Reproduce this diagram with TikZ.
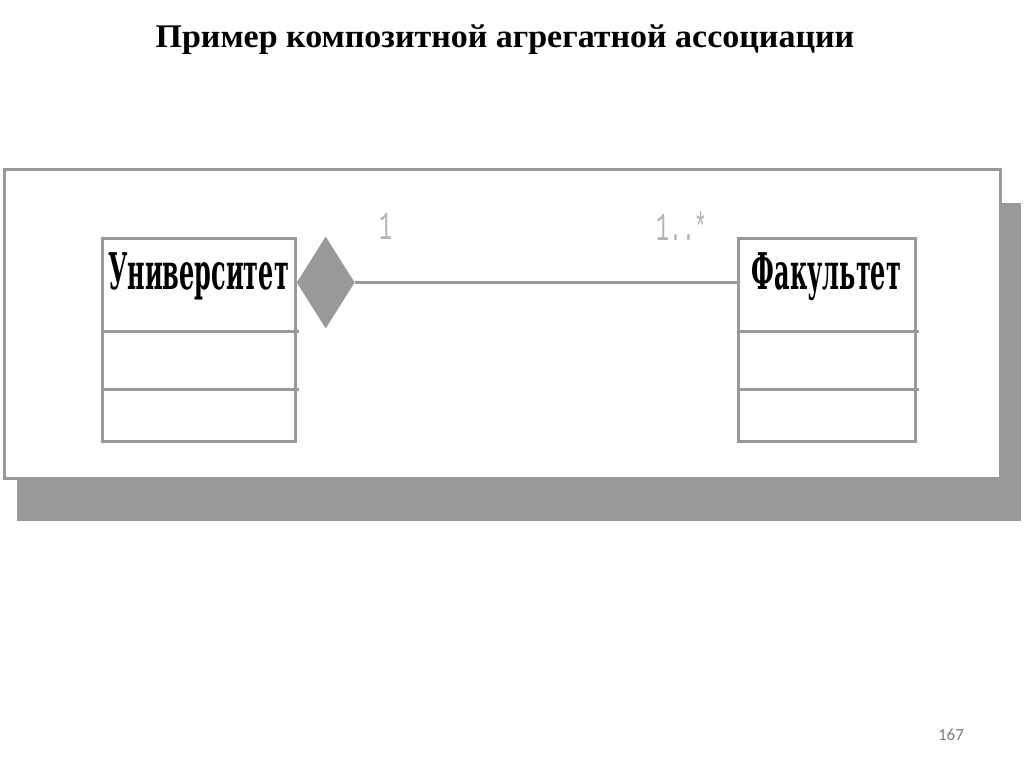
\documentclass[tikz,border=0pt]{standalone}
\usepackage{fontspec}
\setmainfont{Liberation Serif}
\newfontfamily\classfont{DejaVu Serif}
\newfontfamily\multfont{Liberation Mono}
\newfontfamily\pagefont{Carlito}
\usetikzlibrary{positioning,shapes.geometric}

\definecolor{umlgray}{HTML}{999999}
\definecolor{multgray}{HTML}{B4B4B4}
\definecolor{pagegray}{HTML}{7F7F7F}

\tikzset{
  umlline/.style={draw=umlgray, line width=3pt},
  classbox/.style={umlline, minimum width=193pt, minimum height=203pt, inner sep=0pt},
  classname/.style={font=\classfont\bfseries\fontsize{44}{44}\selectfont, xscale=0.545, yscale=1.15, anchor=base},
  multlabel/.style={font=\multfont\fontsize{36}{36}\selectfont, text=multgray, xscale=0.6, yscale=1.1},
  compdiamond/.style={diamond, fill=umlgray, inner sep=0pt, minimum width=58pt, minimum height=92pt}
}

\begin{document}
\begin{tikzpicture}[x=1pt, y=-1pt]
  \useasboundingbox (0,0) rectangle (1024,767);
  % title
  \node[font=\bfseries\fontsize{33}{33}\selectfont, xscale=1.03, anchor=base] (title) at (505,48)
    {Пример композитной агрегатной ассоциации};
  % frame with shadow
  \fill[umlgray] (17,203) rectangle (1021,521);
  \filldraw[umlline, fill=white] (4,170) rectangle (1000,478);
  % classes
  \node[classbox] (univ) at (198.5,339.5) {};
  \node[classbox, minimum width=177pt] (fac) at (826.5,339.5) {};
  \node[classname] (univname) at ([yshift=-53pt]univ.north) {Университет};
  \node[classname] (facname) at ([yshift=-53pt]fac.north) {Факультет};
  \foreach \cls in {univ,fac}
    \foreach \d in {95,153}
      \draw[umlline] ([yshift=-\d pt]\cls.north west) -- ([yshift=-\d pt, xshift=2pt]\cls.north east);
  % composition
  \node[compdiamond, anchor=west] (comp) at ([yshift=-46pt]univ.north east) {};
  \draw[umlline] (comp.east) -- (comp.east -| fac.west);
  \node[multlabel] (multone) at (386,226) {1};
  \node[multlabel] (multmany) at (682,226) {1..*};
  % page number
  \node[font=\pagefont\fontsize{17}{17}\selectfont, text=pagegray] (page) at (951,735) {167};
\end{tikzpicture}
\end{document}
